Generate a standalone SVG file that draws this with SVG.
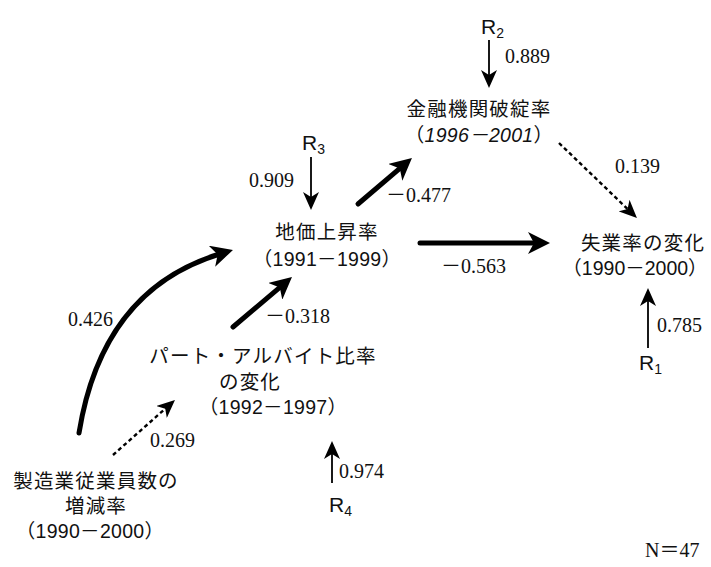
<svg xmlns="http://www.w3.org/2000/svg" width="711" height="567" viewBox="0 0 711 567">
<style>
.jp{font-family:"Liberation Sans","Noto Sans CJK JP",sans-serif;font-size:19.5px;fill:#111;text-anchor:middle;letter-spacing:1.2px}
.yr{letter-spacing:0.3px}
.num{font-family:"Liberation Serif","Noto Sans CJK JP",serif;font-size:20px;fill:#111}
.r{font-family:"Liberation Sans",sans-serif;font-size:21px;fill:#111}
.sub{font-size:14px}
.thick{stroke:#000;stroke-width:5;fill:none;stroke-linecap:round;marker-end:url(#hk)}
.thin{stroke:#000;stroke-width:1.8;fill:none;marker-end:url(#hn)}
.dash{stroke:#000;stroke-width:2.4;fill:none;stroke-dasharray:4 3;marker-end:url(#hn)}
</style>
<defs>
<marker id="hk" markerUnits="userSpaceOnUse" viewBox="0 0 22 22" markerWidth="22" markerHeight="22" refX="8" refY="11" orient="auto">
<path d="M0,0 L22,11 L0,22 L6,11 z" fill="#000"/>
</marker>
<marker id="hn" markerUnits="userSpaceOnUse" viewBox="0 0 18 16" markerWidth="18" markerHeight="16" refX="6" refY="8" orient="auto">
<path d="M0,0 L18,8 L0,16 L5,8 z" fill="#000"/>
</marker>
</defs>
<rect width="711" height="567" fill="#fff"/>

<g id="connectors">
<line class="thin" x1="489" y1="40" x2="489" y2="76"/>
<line class="dash" x1="559" y1="143" x2="628.3" y2="209.7"/>
<line class="thin" x1="311" y1="157" x2="311" y2="198"/>
<line class="thick" x1="358" y1="204" x2="401.3" y2="167.1"/>
<line class="thick" x1="420" y1="243" x2="536" y2="243"/>
<line class="thin" x1="648" y1="348" x2="648" y2="300"/>
<path class="thick" d="M79,433 Q102,290 219.6,254"/>
<line class="thick" x1="233" y1="327" x2="281.3" y2="286.1"/>
<line class="dash" x1="113" y1="455" x2="166" y2="408"/>
<line class="thin" x1="332" y1="483" x2="332" y2="453"/>
</g>

<g id="node-kinyu">
<text class="jp" x="479" y="116">金融機関破綻率</text>
<text class="jp yr" x="479" y="142">（<tspan font-style="italic">1996－2001</tspan>）</text>
</g>
<g id="node-chika">
<text class="jp" x="327" y="239">地価上昇率</text>
<text class="jp yr" x="327" y="266">（1991－1999）</text>
</g>
<g id="node-shitsugyo">
<text class="jp" x="643" y="250">失業率の変化</text>
<text class="jp" x="635" y="275" style="letter-spacing:0">（1990－2000）</text>
</g>
<g id="node-part">
<text class="jp" x="263" y="363">パート・アルバイト比率</text>
<text class="jp" x="250" y="389">の変化</text>
<text class="jp yr" x="273" y="414">（1992－1997）</text>
</g>
<g id="node-seizo">
<text class="jp" x="96" y="488">製造業従業員数の</text>
<text class="jp" x="96" y="513">増減率</text>
<text class="jp yr" x="90" y="538">（1990－2000）</text>
</g>
<g id="residuals">
<text class="r" x="481" y="34">R<tspan class="sub" dy="4">2</tspan></text>
<text class="r" x="302" y="150">R<tspan class="sub" dy="4">3</tspan></text>
<text class="r" x="639" y="370">R<tspan class="sub" dy="4">1</tspan></text>
<text class="r" x="329" y="512">R<tspan class="sub" dy="4">4</tspan></text>
</g>
<g id="coefficients">
<text class="num" x="505" y="63">0.889</text>
<text class="num" x="615" y="173">0.139</text>
<text class="num" x="249" y="187">0.909</text>
<text class="num" x="386" y="202">－0.477</text>
<text class="num" x="441" y="273">－0.563</text>
<text class="num" x="68" y="326">0.426</text>
<text class="num" x="265" y="323">－0.318</text>
<text class="num" x="657" y="332">0.785</text>
<text class="num" x="150" y="447">0.269</text>
<text class="num" x="339" y="478">0.974</text>
<text class="num" x="645" y="557">N＝47</text>
</g>
</svg>
